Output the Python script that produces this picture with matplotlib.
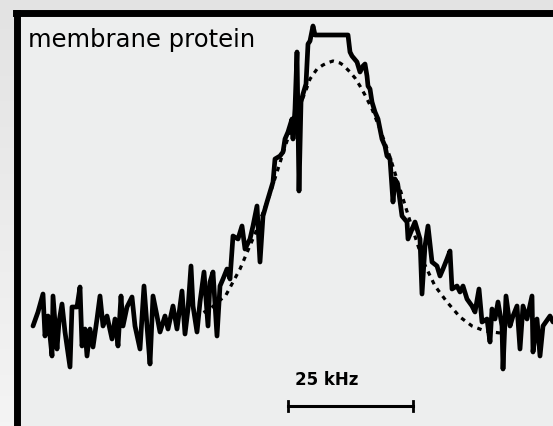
import numpy as np
import matplotlib
matplotlib.use('Agg')
import matplotlib.pyplot as plt

# espectro medido (frecuencia en kHz respecto al centro, intensidad en u.a.)
freq = [-60.0, -59.0, -58.0, -57.6, -57.0, -56.2, -56.0, -55.2, -54.8, -54.2,
        -53.6, -52.6, -52.2, -51.2, -50.6, -50.2, -49.6, -49.2, -48.6, -48.0,
        -47.2, -46.6, -46.0, -45.2, -44.2, -43.6, -43.0, -42.4, -42.0, -41.2,
        -40.2, -39.6, -38.6, -37.8, -37.2, -36.6, -36.0, -35.2, -34.6, -33.6,
        -33.0, -32.0, -31.2, -30.2, -29.6, -29.0, -28.4, -28.0, -27.2, -26.6,
        -25.8, -25.0, -24.6, -24.0, -23.2, -22.6, -22.0, -21.2, -20.6, -20.0,
        -19.0, -18.2, -17.6, -16.6, -16.0, -15.2, -14.6, -14.0, -13.2, -12.6,
        -12.0, -11.6, -10.6, -10.0, -9.6, -9.0, -8.2, -8.0, -7.6, -7.2,
        -7.0, -6.8, -6.4, -6.0, -5.4, -5.0, -4.6, -4.0, -3.6, 3.0,
        3.4, 3.8, 4.8, 5.4, 6.0, 6.4, 6.8, 7.0, 7.4, 7.8,
        8.4, 9.0, 9.8, 10.4, 10.8, 11.4, 12.0, 12.4, 13.0, 13.8,
        14.8, 15.0, 16.4, 17.4, 17.8, 18.4, 19.0, 19.8, 20.8, 21.4,
        22.0, 22.8, 23.4, 23.8, 24.8, 25.4, 26.0, 26.8, 27.8, 28.4,
        29.2, 29.8, 30.8, 31.4, 31.8, 32.4, 33.0, 33.8, 34.0, 34.6,
        35.4, 36.0, 36.8, 37.4, 38.0, 38.8, 39.8, 40.0, 40.8, 41.4,
        42.0, 43.4, 44.0]
signal = [3, 17, 35, -7, 13, -27, 33, -20, 7, 25,
          -3, -38, 22, 22, 42, -17, 0, -27, 0, -18,
          10, 33, 3, 13, -10, 10, -17, 33, 3, 22,
          32, 3, -20, 43, 3, -35, 33, 13, -3, 13,
          0, 23, 0, 38, -5, 20, 63, 23, -3, 27,
          57, 3, 47, 57, -7, 43, 50, 60, 50, 93,
          90, 103, 80, 90, 103, 123, 67, 113, 127, 137,
          147, 170, 173, 177, 190, 197, 210, 190, 220, 277,
          210, 138, 227, 235, 245, 285, 288, 303, 294, 294,
          277, 273, 267, 257, 263, 265, 253, 243, 240, 227,
          217, 210, 190, 183, 173, 170, 127, 150, 143, 113,
          107, 90, 107, 90, 35, 83, 103, 67, 63, 53,
          60, 70, 78, 40, 43, 37, 43, 30, 23, 17,
          40, 7, 10, -13, 20, 10, 27, 3, -40, 33,
          3, 13, 23, -20, 23, 10, 33, -23, 10, -27,
          3, 13, 7]

# ajuste (linea discontinua)
fit_freq = [-27.6, -24.6, -21.4, -18.6, -15.6, -12.6, -9.6, -7.2, -5.6, -4.6,
            -3.2, -2.0, -1.2, 0.0, 1.4, 2.0, 3.4, 4.4, 5.4, 6.4,
            7.8, 9.4, 11.4, 13.4, 15.4, 18.0, 20.4, 22.8, 25.4, 27.8,
            30.4, 33.4]
fit_signal = [12, 20, 34, 60, 95, 135, 182, 218, 236, 250,
              260, 264, 266, 268, 266, 264, 257, 251, 243, 234,
              220, 200, 172, 140, 108, 68, 43, 27, 12, 3,
              -2, -4]

scale_bar = (-9.0, 16.0)  # 25 kHz
label = 'membrane protein'

W, H = 553, 427
fig = plt.figure(figsize=(W / 100, H / 100), dpi=100)

# fondo exterior con un ligero degradado
bg = fig.add_axes([0, 0, 1, 1])
grad = np.linspace(0, 1, 100).reshape(-1, 1)
bg.imshow(grad, aspect='auto', cmap=matplotlib.colors.LinearSegmentedColormap.from_list(
    'g', ['#e3e3e3', '#f4f4f4']), extent=[0, 1, 0, 1])
bg.set_axis_off()

# panel con marco negro arriba e izquierda
x0, y0 = 16.5, 13.5
ax = fig.add_axes([x0 / W, 0, 1 - x0 / W, 1 - y0 / H])
ax.set_facecolor('#edeeee')
ax.set_xlim((x0 - 333) / 5, (W - 333) / 5)
ax.set_ylim(330 - H, 330 - y0)
for s in ['right', 'bottom']:
    ax.spines[s].set_visible(False)
for s in ['top', 'left']:
    ax.spines[s].set_linewidth(5.0)
    ax.spines[s].set_color('black')
ax.set_xticks([])
ax.set_yticks([])

ax.plot(fit_freq, fit_signal, color='black', lw=2.3, linestyle=(0, (1.4, 1.6)))
ax.plot(freq, signal, color='black', lw=3.4, solid_joinstyle='round', solid_capstyle='round')

# barra de escala
ax.plot(scale_bar, [-77, -77], color='black', lw=2.2)
for xb in scale_bar:
    ax.plot([xb, xb], [-72, -82], color='black', lw=2.0)
ax.text(np.mean(scale_bar) - 4.7, -50, '25 kHz', ha='center', va='center', fontsize=12,
        family='DejaVu Sans', weight='bold')

ax.text(28 / W, 1 - 40 / H, label, transform=fig.transFigure, fontsize=17.5,
        ha='left', va='center', family='DejaVu Sans')

fig.savefig('out.png', dpi=100)
